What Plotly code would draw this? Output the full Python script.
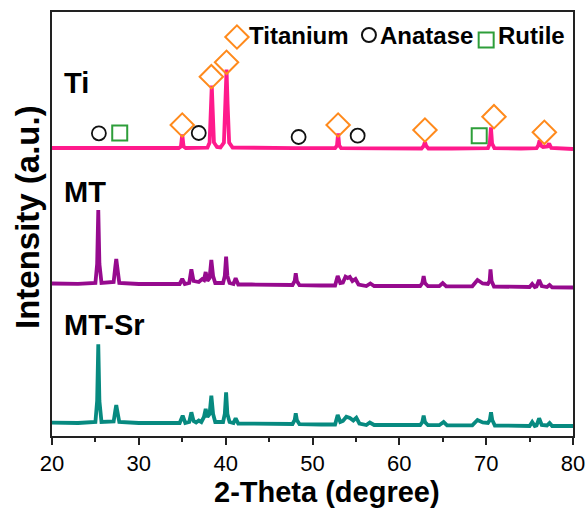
import plotly.graph_objects as go

# ---------------- data ----------------
# 2-theta (degree) and intensity (a.u., relative to each pattern's own background)
ti_2theta = [20, 23, 25, 28, 30, 33, 34.6, 34.85, 35.0, 35.15, 35.4, 37.0, 37.9, 38.15, 38.3, 38.4, 38.5, 38.65,
             39.0, 39.4, 39.8, 39.98, 40.1, 40.22, 40.4, 40.8, 44, 48, 52.6, 52.82, 52.95, 53.08, 53.3, 58,
             62.55, 62.8, 62.95, 63.1, 63.35, 66, 70.2, 70.42, 70.55, 70.68, 70.95, 74, 75.8, 76.0, 76.15,
             76.3, 76.55, 77.05, 77.25, 77.5, 80]
ti_intensity = [0.5, 0.3, 0.6, 0.2, 0.4, 0.5, 0.5, 2, 14, 2, 0.5, 0.4, 0.8, 6, 40, 63, 40, 6,
                1.5, 1, 6, 45, 79, 45, 6, 1, 0.5, 0.3, 0.3, 3, 15, 3, 0.3, 0,
                0, 2.5, 6.5, 2.5, 0, 0, 0.3, 5, 21, 5, 0.3, 0, 0.3, 3, 8,
                3, 1.5, 2, 5, 0.5, -0.5]

mt_2theta = [20, 23, 25.0, 25.2, 25.33, 25.46, 25.7, 27.1, 27.3, 27.4, 27.5, 27.75, 30, 33, 34.7, 35.0, 35.3,
             35.8, 36.05, 36.3, 36.9, 37.3, 37.5, 37.7, 37.9, 38.15, 38.35, 38.55, 38.8, 39.7, 39.9, 40.05,
             40.2, 40.45, 40.9, 41.15, 41.45, 43, 45, 47.7, 47.95, 48.07, 48.2, 48.5, 51, 52.6, 52.9, 53.2,
             53.5, 53.8, 54.05, 54.3, 54.6, 54.95, 55.3, 56.2, 56.66, 57.1, 60, 62.4, 62.65, 62.8, 62.95, 63.3,
             64.6, 65.0, 65.4, 68.4, 69.0, 69.6, 70.2, 70.4, 70.5, 70.62, 70.9, 73, 75.0, 75.3, 75.6,
             75.8, 76.1, 76.4, 77.0, 77.3, 77.6, 80]
mt_intensity = [0.5, 0.2, 1, 20, 74, 20, 1, 2, 18, 25, 18, 1, 0, 0, 0, 5, 0,
                1, 14.7, 3, 2, 5, 4, 12, 3, 6, 24, 8, 1, 1, 8, 27.3,
                8, 1, 0, 5.7, -0.5, -0.5, -0.8, -1, 3, 10.7, 3, -1.2, -1.5, -1.5, 8, 1,
                1.5, 7.3, 6, 7, 3, 5, -0.5, -2, 0.5, -2, -2, -2, 1, 8, 1, -2.2,
                -2.2, 1, -2.3, -2.3, 4, 0.5, 0, 3, 14.7, 3, -2.5, -2.8, -3, 0, -3,
                -2.5, 4, -2, -3, -1, -3.3, -3.5]

mtsr_2theta = [20, 23, 25.0, 25.2, 25.33, 25.46, 25.7, 27.1, 27.3, 27.4, 27.5, 27.75, 30, 33, 34.7, 35.05,
               35.35, 35.8, 36.05, 36.3, 36.6, 36.9, 37.2, 37.5, 37.7, 37.9, 38.15, 38.35, 38.55, 38.8, 39.7,
               39.9, 40.05, 40.2, 40.45, 40.9, 41.15, 41.45, 43, 45, 47.7, 47.95, 48.07, 48.2, 48.5, 51, 52.6,
               52.9, 53.2, 53.5, 53.9, 54.3, 54.7, 55.05, 55.4, 56.2, 56.6, 57.1, 60, 62.4, 62.65, 62.8, 62.95,
               63.3, 64.6, 65.1, 65.5, 68.4, 69.0, 69.6, 70.2, 70.42, 70.56, 70.7, 71.0, 73, 75.0, 75.3,
               75.6, 75.8, 76.1, 76.4, 77.0, 77.3, 77.6, 80]
mtsr_intensity = [0.3, 0, 1, 22, 78.7, 22, 1, 1.5, 13, 18, 13, 1, 0, 0, 0, 7.3,
                  0, 1, 10.7, 2, 0.5, 2.5, 1, 6, 14, 6, 9, 27.3, 9, 1, 1,
                  9, 30.7, 9, 1, 0, 4.7, -0.5, -0.5, -0.8, -1, 3, 9.7, 3, -1.2, -1.5, -1.5,
                  8, 1, 2, 6.3, 5, 2.5, 5.3, -0.5, -2, 0.5, -2, -2, -2, 1, 7.3, 1,
                  -2.2, -2.2, 1, -2.3, -2.3, 3, 0.5, 0, 3, 10.7, 3, -2.5, -2.8, -3, 1, -3,
                  -2.5, 4.7, -2, -2.5, 0, -3, -3]

sample_names = ["Ti", "MT", "MT-Sr"]

# phase marks: 2-theta of the indexed reflections and the height of each mark
titanium_2theta = [35.0, 38.35, 40.1, 52.95, 62.95, 70.9, 76.7]
titanium_mark = [311, 359.3, 373.7, 311, 306, 319.3, 303.7]
anatase_2theta = [25.4, 36.9, 48.4, 55.2]
anatase_mark = [302.7, 303, 299, 300.3]
rutile_2theta = [27.8, 69.2]
rutile_mark = [303, 300.3]
phase_names = ["Titanium", "Anatase", "Rutile"]

x_ticks = [20, 30, 40, 50, 60, 70, 80]

# ---------------- styling / layout ----------------
offsets = {"Ti": 287.5, "MT": 152, "MT-Sr": 13}
colors = {"Ti": "#FF1A8C", "MT": "#960A8E", "MT-Sr": "#078A80"}
FONT = "Liberation Sans, Arial, sans-serif"
ORANGE, GREEN = "#FF8A1C", "#2E9E3A"

fig = go.Figure()
for name, xs, ys in zip(sample_names, [ti_2theta, mt_2theta, mtsr_2theta],
                        [ti_intensity, mt_intensity, mtsr_intensity]):
    fig.add_trace(go.Scatter(x=xs, y=[v + offsets[name] for v in ys], mode="lines",
                             line=dict(color=colors[name], width=3.8), name=name, showlegend=False))

fig.add_trace(go.Scatter(x=titanium_2theta, y=titanium_mark, mode="markers", showlegend=False,
                         marker=dict(symbol="diamond-open", color=ORANGE, size=18, line=dict(width=2))))
fig.add_trace(go.Scatter(x=anatase_2theta, y=anatase_mark, mode="markers", showlegend=False,
                         marker=dict(symbol="circle-open", color="#111111", size=14, line=dict(width=1.8))))
fig.add_trace(go.Scatter(x=rutile_2theta, y=rutile_mark, mode="markers", showlegend=False,
                         marker=dict(symbol="square-open", color=GREEN, size=15, line=dict(width=2))))

# manual legend (symbol + text) at the top of the frame
leg_sym_x = [41.3, 56.5, 70.0]
leg_sym_y = [399, 401, 396]
leg_styles = [("diamond-open", ORANGE, 18), ("circle-open", "#111111", 14), ("square-open", GREEN, 15)]
leg_text_x = [42.5, 57.6, 71.1]
for i, nm in enumerate(phase_names):
    sym, col, sz = leg_styles[i]
    fig.add_trace(go.Scatter(x=[leg_sym_x[i]], y=[leg_sym_y[i]], mode="markers", showlegend=False,
                             marker=dict(symbol=sym, color=col, size=sz, line=dict(width=2))))
    fig.add_annotation(x=leg_text_x[i], y=401, xref="x", yref="y", text=nm, showarrow=False,
                       xanchor="left", yanchor="middle",
                       font=dict(family=FONT, size=24, color="black", weight="bold"))

label_y = {"Ti": 353, "MT": 244, "MT-Sr": 111}
for name in sample_names:
    fig.add_annotation(x=21.1, y=label_y[name], xref="x", yref="y", text=name, showarrow=False,
                       xanchor="left", yanchor="middle",
                       font=dict(family=FONT, size=29, color="black", weight="bold"))

# axis titles
fig.add_annotation(x=0.528, y=-0.132, xref="paper", yref="paper", text="2-Theta (degree)",
                   showarrow=False, xanchor="center", yanchor="middle",
                   font=dict(family=FONT, size=29, color="black", weight="bold"))
fig.add_annotation(x=-0.048, y=0.5165, xref="paper", yref="paper", text="Intensity (a.u.)",
                   showarrow=False, xanchor="center", yanchor="middle", textangle=-90,
                   font=dict(family=FONT, size=33, color="black", weight="bold"))

fig.update_layout(
    width=588, height=511,
    margin=dict(l=52, r=15, t=12, b=75, autoexpand=False),
    paper_bgcolor="white", plot_bgcolor="white",
    font=dict(family=FONT, color="black"),
    xaxis=dict(range=[20, 80], tickvals=x_ticks, ticks="outside", ticklen=7, tickwidth=1.5,
               tickcolor="#222", showline=True, linecolor="#222", linewidth=1.5, mirror=True,
               showgrid=False, zeroline=False, tickfont=dict(size=22, family=FONT), automargin=False,
               minor=dict(dtick=5, ticks="outside", ticklen=4, tickwidth=1.5, tickcolor="#222")),
    yaxis=dict(range=[0, 424], showticklabels=False, ticks="", showline=True, linecolor="#222",
               linewidth=1.5, mirror=True, showgrid=False, zeroline=False, automargin=False),
)

fig.write_html("out.html")
